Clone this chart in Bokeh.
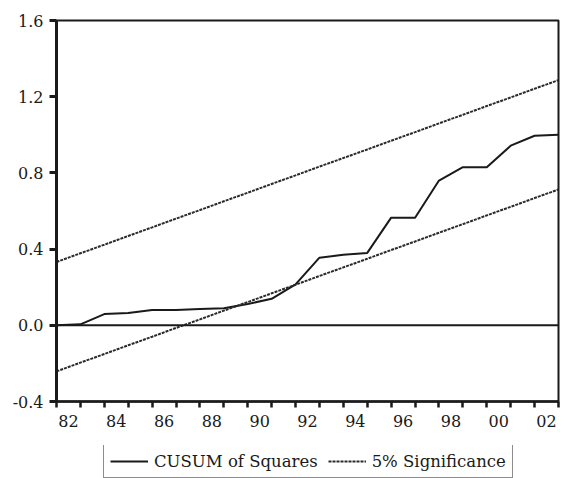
from bokeh.plotting import figure
from bokeh.layouts import column
from bokeh.models import (Range1d, FixedTicker, PrintfTickFormatter, Span,
                          Legend, LegendItem)
from bokeh.embed import file_html
from bokeh.resources import INLINE

# Observation index (annual, 22 observations) and axis labels
periods = list(range(22))
year_labels = ["82", "84", "86", "88", "90", "92", "94", "96", "98", "00", "02"]
label_positions = [0.5, 2.5, 4.5, 6.5, 8.5, 10.5, 12.5, 14.5, 16.5, 18.5, 20.5]

# CUSUM of squares statistic
cusum_sq = [0.000, 0.005, 0.059, 0.065, 0.080, 0.080, 0.085, 0.089, 0.112,
            0.139, 0.215, 0.355, 0.370, 0.380, 0.565, 0.565, 0.760, 0.830,
            0.830, 0.943, 0.995, 1.000]

# 5% significance bounds
upper_bound = [0.332, 0.378, 0.423, 0.469, 0.514, 0.560, 0.605, 0.651, 0.696,
               0.742, 0.787, 0.833, 0.878, 0.923, 0.969, 1.014, 1.060, 1.105,
               1.151, 1.196, 1.242, 1.287]
lower_bound = [-0.242, -0.196, -0.151, -0.105, -0.060, -0.014, 0.031, 0.077,
               0.122, 0.168, 0.213, 0.259, 0.304, 0.349, 0.395, 0.440, 0.486,
               0.531, 0.577, 0.622, 0.668, 0.713]

y_ticks = [-0.4, 0.0, 0.4, 0.8, 1.2, 1.6]

FONT = "DejaVu Serif"
INK = "#1a1a1a"
DASH_INK = "#2a2a2a"
SOLID = dict(line_color=INK, line_width=2)
DASHED = dict(line_color=DASH_INK, line_width=2, line_dash="3 1")

p = figure(width=564, height=445,
           x_range=Range1d(0, 21), y_range=Range1d(-0.4, 1.6),
           output_backend="svg", toolbar_location=None,
           min_border_left=56, min_border_right=6,
           min_border_top=20, min_border_bottom=44)

p.background_fill_color = "white"
p.border_fill_color = "white"
p.outline_line_color = INK
p.outline_line_width = 2
p.xgrid.visible = False
p.ygrid.visible = False

# x axis: tick marks at each observation, labels centred between them
xa = p.xaxis[0]
xa.ticker = FixedTicker(ticks=label_positions, minor_ticks=periods)
xa.major_label_overrides = {pos: lab for pos, lab in zip(label_positions, year_labels)}
xa.major_tick_line_color = None
xa.major_tick_in = 0
xa.major_tick_out = 6
xa.minor_tick_in = 0
xa.minor_tick_out = 6
xa.minor_tick_line_width = 2.5
xa.minor_tick_line_color = INK
xa.axis_line_width = 2.5
xa.axis_line_color = INK
xa.major_label_standoff = 7
xa.major_label_text_font = FONT
xa.major_label_text_font_size = "16px"
xa.major_label_text_color = INK

ya = p.yaxis[0]
ya.ticker = FixedTicker(ticks=y_ticks, minor_ticks=[])
ya.formatter = PrintfTickFormatter(format="%.1f")
ya.major_tick_in = 0
ya.major_tick_out = 7
ya.major_tick_line_width = 3
ya.major_tick_line_color = INK
ya.minor_tick_out = 0
ya.minor_tick_in = 0
ya.axis_line_width = 3
ya.axis_line_color = INK
ya.major_label_standoff = 6
ya.major_label_text_font = FONT
ya.major_label_text_font_size = "16px"
ya.major_label_text_color = INK

# zero reference line
p.add_layout(Span(location=0, dimension="width", line_color=INK, line_width=2))

p.line(periods, cusum_sq, **SOLID)
p.line(periods, upper_bound, **DASHED)
p.line(periods, lower_bound, **DASHED)

# legend strip underneath the chart (its frame lines up with the chart frame)
key = figure(width=564, height=33, x_range=Range1d(0, 1), y_range=Range1d(0, 1),
             x_axis_type=None, y_axis_type=None,
             output_backend="svg", toolbar_location=None,
             min_border_left=56, min_border_right=6,
             min_border_top=0, min_border_bottom=0)
key.outline_line_color = None
key.xgrid.visible = False
key.ygrid.visible = False
nan = float("nan")
k_solid = key.line([nan, nan], [nan, nan], **SOLID)
k_dashed = key.line([nan, nan], [nan, nan], **DASHED)

legend = Legend(items=[LegendItem(label="CUSUM of Squares", renderers=[k_solid]),
                       LegendItem(label="5% Significance", renderers=[k_dashed])],
                location=(47, 0), orientation="horizontal",
                glyph_width=38, glyph_height=20, label_height=20,
                label_standoff=6, spacing=10, padding=6, margin=0,
                label_text_font=FONT, label_text_font_size="16.5px",
                label_text_color=INK,
                border_line_color=INK, border_line_width=1.5,
                background_fill_color="white", background_fill_alpha=1.0)
key.add_layout(legend)

page = column(p, key, spacing=0)

open("out.html", "w").write(file_html(page, INLINE))
